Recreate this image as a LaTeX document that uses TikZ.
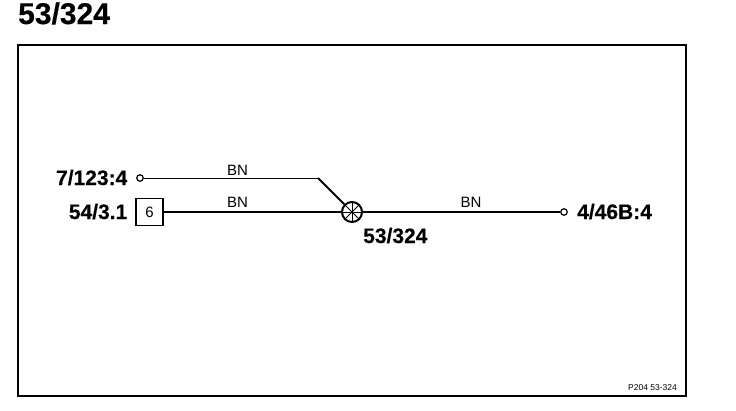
\documentclass[tikz,border=0pt]{standalone}
\usepackage{fontspec}
\setmainfont{Liberation Sans}[BoldFeatures={FakeBold=0.35}]
\newcommand{\pxfont}[1]{\fontsize{#1}{#1}\selectfont}
\tikzset{
  x=1pt,y=-1pt,
  frame/.style={draw=black,line width=2pt,fill=white},
  thinwire/.style={draw=black,line width=1pt},
  thickwire/.style={draw=black,line width=2pt},
  terminal/.style={circle,draw=black,line width=1.2pt,fill=white,minimum size=6.5pt,inner sep=0pt},
  conn/.style={rectangle,draw=black,line width=1.1pt,fill=white,minimum size=27pt,inner sep=0pt,font=\pxfont{15}},
  bigl/.style={inner sep=0pt,font=\bfseries\pxfont{21}},
  wirel/.style={inner sep=0pt,font=\pxfont{15}},
  splice/.style={circle,draw=black,line width=2pt,fill=white,minimum size=20pt,inner sep=0pt},
}
\begin{document}
\begin{tikzpicture}
\useasboundingbox (0,0) rectangle (736,410);
\fill[white] (0,0) rectangle (736,410);
\node[anchor=base west,inner sep=0pt,font=\bfseries\pxfont{30}] (title) at (18,24) {53/324};
\draw[frame] (18,45) rectangle (686,396);
\node[terminal] (t1) at (140,178) {};
\node[conn] (box) at (149.5,212) {6};
\node[terminal] (t2) at (564,212) {};
\node[splice] (sp) at (352,212) {};
\coordinate (bend) at (318,178);
\draw[thinwire] (t1) -- (bend);
\draw[thickwire] (bend) -- (sp);
\draw[thickwire] (box) -- (sp);
\draw[thickwire] (sp) -- (t2);
\foreach \a in {0,45,...,135}
  \draw[line width=1pt] (sp.\a) -- (sp.\a+180);
\node[bigl,anchor=base east] (l1) at (127.5,185) {7/123:4};
\node[bigl,anchor=base east] (l2) at (127.5,219) {54/3.1};
\node[bigl,anchor=base west] (l3) at (577,219) {4/46B:4};
\node[bigl,anchor=base west] (l4) at (363,243) {53/324};
\node[wirel,anchor=base] (w1) at (237.5,175) {BN};
\node[wirel,anchor=base] (w2) at (237.5,207) {BN};
\node[wirel,anchor=base] (w3) at (471,207) {BN};
\node[anchor=base west,inner sep=0pt,font=\pxfont{8.5}] (foot) at (628,390) {P204 53-324};
\end{tikzpicture}
\end{document}
